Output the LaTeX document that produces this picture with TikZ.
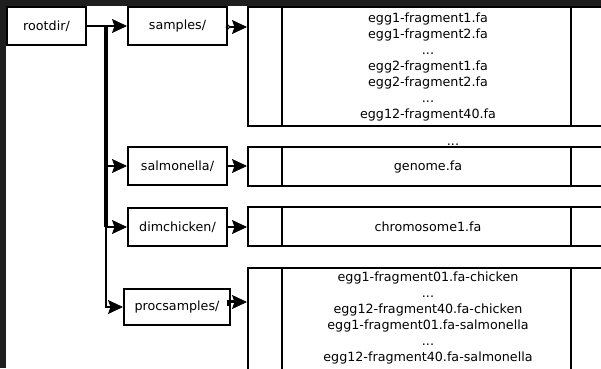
\documentclass[tikz,border=0pt]{standalone}
\usepackage{fontspec}
\setmainfont{DejaVu Sans}
\usetikzlibrary{arrows.meta,calc}
\definecolor{pagebg}{HTML}{1E1E1E}
\newcommand{\dotfont}{\fontsize{12.7pt}{16pt}\selectfont}
\begin{document}
\dotfont
\begin{tikzpicture}[x=1pt,y=-1pt,
  every node/.style={font=\dotfont},
  dirbox/.style={draw,line width=2pt,fill=white,rectangle,inner sep=0pt,
    minimum width=99pt,minimum height=38pt,font=\dotfont},
  filerec/.style={draw,line width=2pt,rectangle,inner sep=0pt,
    minimum width=392pt},
  celltext/.style={align=center,inner sep=0pt,font=\dotfont},
  cellrule/.style={line width=2pt},
  link/.style={line width=2pt,-{Stealth[length=15pt,width=14pt,inset=2.5pt,line width=0.8pt]}},
  ]
  % page and canvas
  \useasboundingbox (0,0) rectangle (601,368);
  \clip (0,0) rectangle (601,368);
  \fill[pagebg] (0,0) rectangle (601,368);
  \fill[white] (6,6) rectangle (601,368);

  % directory nodes
  \node[dirbox,minimum width=79pt] (rootdir) at (46.5,26) {rootdir/};
  \node[dirbox] (samples) at (177.5,26) {samples/};
  \node[dirbox] (salmonella) at (177.5,166) {salmonella/};
  \node[dirbox] (dimchicken) at (177.5,227) {dimchicken/};
  \node[dirbox,minimum width=106pt,minimum height=36pt] (procsamples) at (177,307) {procsamples/};

  % file records
  \node[filerec,minimum height=119pt] (sf) at (444,66.5) {};
  \node[filerec,minimum height=39pt] (gf) at (444,166.5) {};
  \node[filerec,minimum height=39pt] (cf) at (444,226.5) {};
  \node[filerec,minimum height=132pt] (pf) at (444,334) {};
  \foreach \r in {sf,gf,cf,pf}{
    \draw[cellrule] ($(\r.north west)+(35,1)$) -- ($(\r.south west)+(35,-1)$);
    \draw[cellrule] ($(\r.north west)+(324,1)$) -- ($(\r.south west)+(324,-1)$);
  }

  \node[celltext] (sftext) at (428,66.5) {egg1-fragment1.fa\\egg1-fragment2.fa\\...\\egg2-fragment1.fa\\egg2-fragment2.fa\\...\\egg12-fragment40.fa};
  \node[celltext] (gftext) at (428,166.5) {genome.fa};
  \node[celltext] (cftext) at (428,226.5) {chromosome1.fa};
  \node[celltext] (pftext) at (428,318) {egg1-fragment01.fa-chicken\\...\\egg12-fragment40.fa-chicken\\egg1-fragment01.fa-salmonella\\...\\egg12-fragment40.fa-salmonella};
  \node[anchor=base,inner sep=0pt] (gap) at (453,145.5) {...};

  % tree edges
  \coordinate (fork) at ($(rootdir.east)!0.48!(samples.west)$);
  \draw[line width=4pt] (fork) -- (fork |- dimchicken.west);
  \draw[link] (rootdir.east) -- (samples.west);
  \draw[link] (fork) |- (salmonella.west);
  \draw[link] (fork) |- (dimchicken.west);
  \draw[link] (fork) |- (procsamples.west);

  % directory to contents
  \draw[line width=1pt] ($(samples.east)+(0,1)$) circle (1.8pt);
  \draw[link] ($(samples.east)+(2,1)$) -- ($(samples.east -| sf.west)+(0,1)$);
  \draw[link] (salmonella.east) -- (salmonella.east -| gf.west);
  \draw[link] (dimchicken.east) -- (dimchicken.east -| cf.west);
  \draw[line width=1.2pt] ($(procsamples.east)+(-3,-1)$) -- ($(procsamples.east)+(-3,-6)$) -- ($(procsamples.east)+(3,-6)$);
  \draw[link] ($(procsamples.east)+(0,-5)$) -- ($(procsamples.east -| pf.west)+(0,-5)$);
\end{tikzpicture}
\end{document}
